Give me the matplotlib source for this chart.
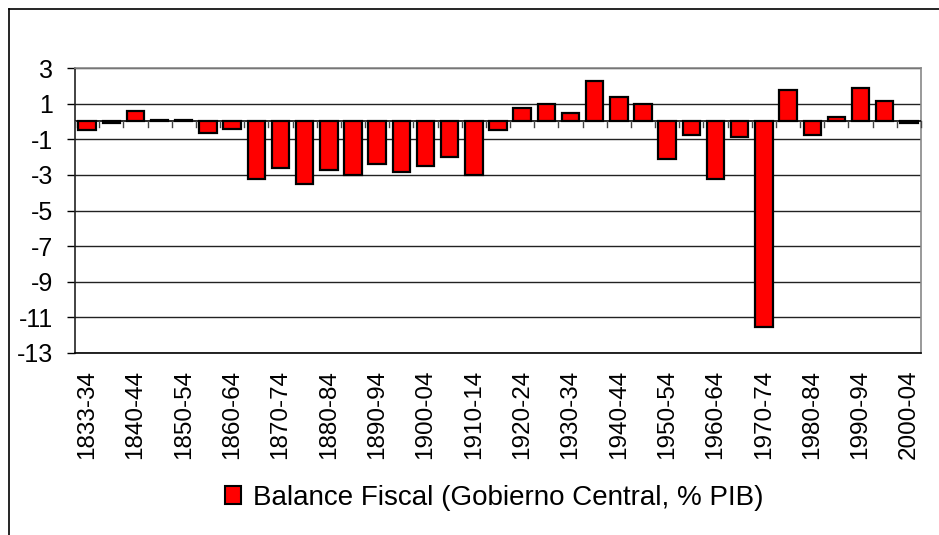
import matplotlib
matplotlib.use("Agg")
import matplotlib.pyplot as plt
from matplotlib.lines import Line2D
from matplotlib.patches import Patch

periods = ["1833-34", "1835-39", "1840-44", "1845-49", "1850-54", "1855-59",
           "1860-64", "1865-69", "1870-74", "1875-79", "1880-84", "1885-89",
           "1890-94", "1895-99", "1900-04", "1905-09", "1910-14", "1915-19",
           "1920-24", "1925-29", "1930-34", "1935-39", "1940-44", "1945-49",
           "1950-54", "1955-59", "1960-64", "1965-69", "1970-74", "1975-79",
           "1980-84", "1985-89", "1990-94", "1995-99", "2000-04"]
balance = [-0.5, -0.1, 0.6, 0.1, 0.1, -0.65, -0.4, -3.23, -2.6, -3.5,
           -2.75, -3.0, -2.37, -2.85, -2.5, -2.0, -3.0, -0.5, 0.75, 1.0,
           0.5, 2.25, 1.38, 1.0, -2.13, -0.77, -3.23, -0.88, -11.52, 1.74,
           -0.77, 0.26, 1.87, 1.12, -0.1]
yticks = [3, 1, -1, -3, -5, -7, -9, -11, -13]
legend_label = "Balance Fiscal (Gobierno Central, % PIB)"

plt.rcParams['font.family'] = ['Liberation Sans', 'DejaVu Sans']

fig = plt.figure(figsize=(9.39, 5.35), dpi=100)
ax = fig.add_axes([75/939, 1-353/535, (921-75)/939, (353-68)/535])

x = list(range(len(periods)))
ax.bar(x, balance, width=0.72, color='#ff0000', edgecolor='black', linewidth=1.6, zorder=3)

ax.set_ylim(-13, 3)
ax.set_xlim(-0.5, len(periods) - 0.5)
ax.set_yticks(yticks)
ax.set_yticklabels([str(v) for v in yticks], fontsize=18)
ax.tick_params(axis='y', length=6, width=1, pad=10, color='black')
for v in yticks:
    ax.axhline(v, color='#222222', lw=1.0, zorder=1)
ax.axhline(0, color='black', lw=1.2, zorder=4)
# category tick marks on the zero line
for i in range(len(periods) + 1):
    ax.plot([i - 0.5, i - 0.5], [0, -0.3], color='#444444', lw=1, zorder=4, clip_on=False)

ax.set_xticks(x[::2])
ax.set_xticklabels(periods[::2], rotation=90, fontsize=17.5, va='top')
ax.tick_params(axis='x', length=0, pad=12)

for s in ['top', 'right']:
    ax.spines[s].set_color('#888888')
    ax.spines[s].set_linewidth(1.2)
ax.spines['left'].set_color('#222222')
ax.spines['left'].set_linewidth(1.2)
ax.spines['bottom'].set_color('black')
ax.spines['bottom'].set_linewidth(1.2)

# outer chart frame
fig.add_artist(Line2D([8.5/939, 8.5/939], [0, 1-8.5/535], color='black', lw=1.2, transform=fig.transFigure))
fig.add_artist(Line2D([8.5/939, 1], [1-8.5/535, 1-8.5/535], color='black', lw=1.2, transform=fig.transFigure))

handle = Patch(facecolor='#ff0000', edgecolor='black', linewidth=1.5)
fig.legend([handle], [legend_label], loc='center', bbox_to_anchor=(0.526, 0.069),
           frameon=False, fontsize=20, handlelength=0.6, handleheight=0.6,
           handletextpad=0.4)

fig.savefig("out.png", dpi=100)
